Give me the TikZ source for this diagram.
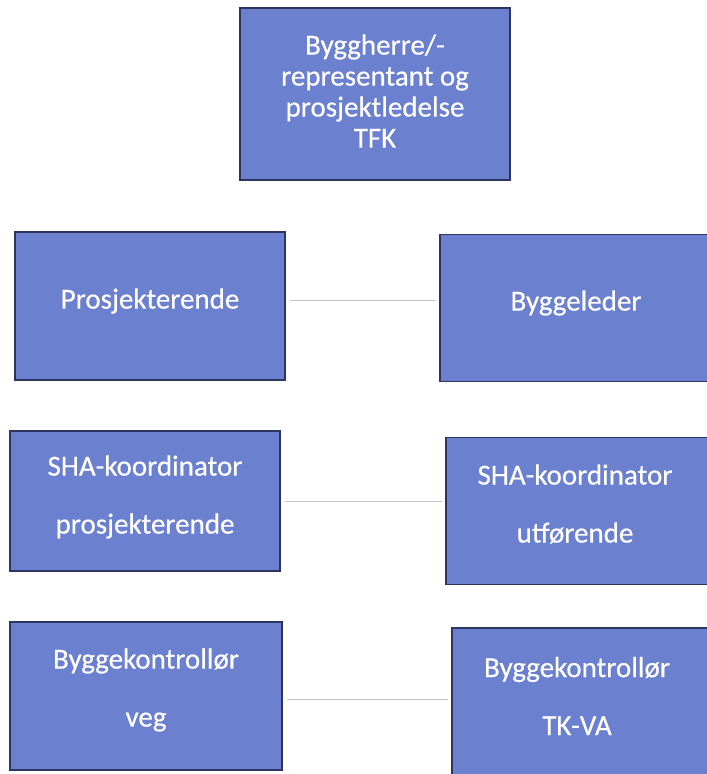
\documentclass[tikz,border=0pt]{standalone}
\usepackage{fontspec}
\setmainfont{Carlito}[FakeBold=0.4]
\definecolor{boxfill}{RGB}{108,128,208}
\definecolor{boxline}{RGB}{44,52,96}
\definecolor{connline}{RGB}{196,196,202}
\begin{document}
\begin{tikzpicture}[x=1pt,y=-1pt,
  orgbox/.style={draw=boxline, line width=1.8pt, fill=boxfill, inner sep=0pt},
  orgtext/.style={text=white, align=center, inner sep=0pt,
    font=\fontsize{29}{31}\selectfont},
  wide/.style={font=\fontsize{29}{58}\selectfont},
  conn/.style={draw=connline, line width=0.9pt, shorten <=4pt, shorten >=3pt}]
\useasboundingbox (0,0) rectangle (707,774);
\begin{scope}
\clip (0,0) rectangle (707,774);
\node[orgbox, minimum width=270pt, minimum height=172pt] (top) at (375,94) {};
\node[orgbox, minimum width=270pt, minimum height=148pt] (L2) at (150,306) {};
\node[orgbox, minimum width=272pt, minimum height=147pt] (R2) at (576,308) {};
\node[orgbox, minimum width=270pt, minimum height=140pt] (L3) at (145,501) {};
\node[orgbox, minimum width=262pt, minimum height=147pt] (R3) at (577,511) {};
\node[orgbox, minimum width=272pt, minimum height=148pt] (L4) at (146,696) {};
\node[orgbox, minimum width=258pt, minimum height=152pt] (R4) at (581,704) {};
\end{scope}
\node[orgtext] (topt) at ([yshift=3pt]top.center)
  {Byggherre/-\\representant og\\prosjektledelse\\TFK};
\node[orgtext] (L2t) at ([yshift=5pt]L2.center) {Prosjekterende};
\node[orgtext] (R2t) at ([yshift=5pt]R2.center) {Byggeleder};
\node[orgtext, wide] (L3t) at ([yshift=4pt]L3.center) {SHA-koordinator\\prosjekterende};
\node[orgtext, wide] (R3t) at ([xshift=-2pt,yshift=7pt]R3.center) {SHA-koordinator\\utførende};
\node[orgtext, wide] (L4t) at ([yshift=6pt]L4.center) {Byggekontrollør\\veg};
\node[orgtext, wide] (R4t) at ([xshift=-4pt,yshift=8pt]R4.center) {Byggekontrollør\\TK-VA};
\coordinate (c2) at ([yshift=6pt]L2.east);
\coordinate (c3) at (L3.east);
\coordinate (c4) at ([yshift=-3pt]L4.east);
\draw[conn] (c2) -- (c2 -| R2.west);
\draw[conn] (c3) -- (c3 -| R3.west);
\draw[conn] (c4) -- (c4 -| R4.west);
\end{tikzpicture}
\end{document}
